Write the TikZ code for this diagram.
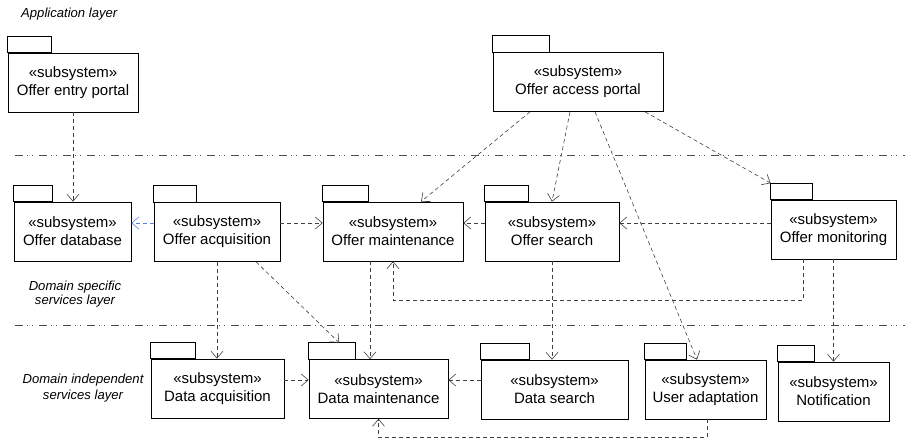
\documentclass[tikz,border=0pt]{standalone}
\usepackage{fontspec}
\setmainfont{Liberation Sans}
\usepackage{tikz}
\usetikzlibrary{arrows.meta}

\definecolor{depblue}{RGB}{90,125,235}

\begin{document}
\begin{tikzpicture}[x=1pt,y=-1pt,
pkg/.style={draw,line width=0.65pt,align=center,inner sep=0pt,minimum height=59,font=\fontsize{15}{18}\selectfont},
tab/.style={draw,line width=0.65pt},
dep/.style={draw=black!75,line width=0.6pt,dash pattern=on 4pt off 3pt,-{Straight Barb[length=7pt,width=12pt]}},
layer/.style={draw=black!70,line width=0.9pt,dash pattern=on 8pt off 4pt on 1pt off 4pt on 1pt off 6pt},
lbl/.style={font=\fontsize{13.1}{14}\selectfont\itshape,align=center,inner sep=0pt}]
\useasboundingbox (0,0) rectangle (914,439);
\draw
(73,82.5) node[pkg,minimum width=130](entry){«subsystem»\\Offer entry portal}
(578,82) node[pkg,minimum width=170](access){«subsystem»\\Offer access portal}
(72.5,231.5) node[pkg,minimum width=117](db){«subsystem»\\Offer database}
(217,232) node[pkg,minimum width=126](acq){«subsystem»\\Offer acquisition}
(393,231.5) node[pkg,minimum width=140](maint){«subsystem»\\Offer maintenance}
(552,231.5) node[pkg,minimum width=134](search){«subsystem»\\Offer search}
(833.5,229.5) node[pkg,minimum width=125](mon){«subsystem»\\Offer monitoring}
(217.5,388.5) node[pkg,minimum width=133](dacq){«subsystem»\\Data acquisition}
(378.5,389) node[pkg,minimum width=139](dmaint){«subsystem»\\Data maintenance}
(554.5,389.5) node[pkg,minimum width=147](dsearch){«subsystem»\\Data search}
(705.5,389.5) node[pkg,minimum width=121](adapt){«subsystem»\\User adaptation}
(833.5,391.5) node[pkg,minimum width=111](notif){«subsystem»\\Notification}
;
%%% Package tabs
\foreach \n/\w in {entry/44, access/57, db/39, acq/43, maint/46, search/44, mon/42,
dacq/45, dmaint/47, dsearch/49, adapt/42, notif/37}{
\draw[tab] (\n.north west) rectangle ++(\w,-16.5);
}
%%% Layer separators and labels
\draw[layer] (15,155) -- (905,155);
\draw[layer] (15,325) -- (905,325);
\node[lbl,anchor=west](applbl) at (21,14){Application layer};
\node[lbl](speclbl) at (75,294.5){Domain specific\\services layer};
\node[lbl](indlbl) at (83,388.5){Domain independent\\[2pt]services layer};
\coordinate (r1) at (0,223);
\coordinate (r2) at (0,380);
\coordinate (m1) at ([xshift=-23]maint.south);
\coordinate (maint-in) at ([xshift=28]maint.north);
\coordinate (adapt-in) at ([xshift=-8.5]adapt.north);
\coordinate (mon-tab) at ([yshift=16.5]mon.north west);
\coordinate (dmaint-tab) at ([xshift=30.5,yshift=16.5]dmaint.north west);
%%% Dependencies along a row
\foreach \a/\b/\c in {acq.west/db.east/depblue, acq.east/maint.west/black!75,
search.west/maint.east/black!75, mon.west/search.east/black!75}{
\draw[dep,draw=\c](\a |- r1) -- (\b |- r1);
}
\foreach \a/\b in {dacq.east/dmaint.west, dsearch.west/dmaint.east}{
\draw[dep](\a |- r2) -- (\b |- r2);
}
%%% Dependencies straight down
\foreach \a/\b in {entry.south/db.north, acq.south/dacq.north, m1/dmaint.north,
search.south/dsearch.north, mon.south/notif.north}{
\draw[dep](\a) -- (\a |- \b);
}
%%% Dependencies from the access portal
\foreach \s/\t in {-48/maint-in, -8/search.north, 17/adapt-in, 67/mon-tab}{
\draw[dep]([xshift=\s]access.south) -- (\t);
}
\draw[dep]([xshift=39]acq.south) -- (dmaint-tab);
%%% Routed dependencies
\draw[dep]([xshift=-30.5]mon.south) -- ++(0,41) -| (maint.south);
\draw[dep]([xshift=1.5]adapt.south) -- ++(0,18) -| (dmaint.south);
\end{tikzpicture}
\end{document}
